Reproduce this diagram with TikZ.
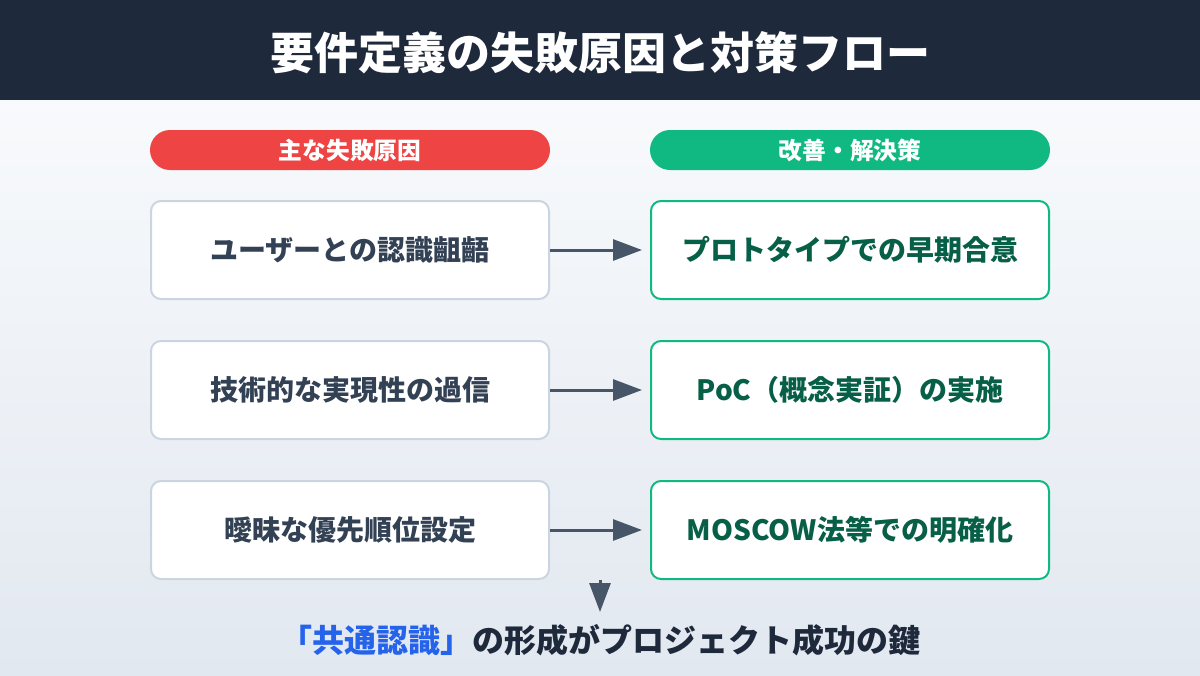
\documentclass[tikz,border=0pt]{standalone}
\usepackage{fontspec}
\setmainfont{Noto Sans CJK JP}
\usetikzlibrary{arrows.meta}
\definecolor{hdr}{HTML}{1E293B}
\definecolor{bgtop}{HTML}{F8FAFC}
\definecolor{bgbot}{HTML}{E2E8F0}
\definecolor{redc}{HTML}{EF4444}
\definecolor{greenc}{HTML}{10B981}
\definecolor{greytx}{HTML}{334155}
\definecolor{greentx}{HTML}{065F46}
\definecolor{lbord}{HTML}{CBD5E1}
\definecolor{arrc}{HTML}{475569}
\definecolor{bluec}{HTML}{2563EB}
\tikzset{
  pill/.style={fill=#1, draw=none, rounded corners=15pt, minimum width=300pt, minimum height=30pt, text=white, font=\bfseries\fontsize{17.8pt}{20pt}\selectfont, inner sep=0pt},
  causebox/.style={fill=white, draw=lbord, line width=1.5pt, rounded corners=7.5pt, minimum width=298.5pt, minimum height=73.5pt, text=greytx, font=\bfseries\fontsize{21pt}{25pt}\selectfont, inner sep=0pt},
  fixbox/.style={fill=white, draw=greenc, line width=1.5pt, rounded corners=7.5pt, minimum width=298.5pt, minimum height=73.5pt, text=greentx, font=\bfseries\fontsize{21pt}{25pt}\selectfont, inner sep=0pt},
  flowarrow/.style={draw=arrc, line width=2.25pt, -{Triangle[length=21.75pt,width=15.75pt]}},
}
\begin{document}
\begin{tikzpicture}[x=0.75pt,y=-0.75pt]
\useasboundingbox (0,0) rectangle (1200,675);
\shade[top color=bgtop, bottom color=bgbot] (0,100) rectangle (1200,675);
\fill[hdr] (0,0) rectangle (1200,100);
\node[text=white, font=\bfseries\fontsize{33pt}{37pt}\selectfont] (title) at (600,53) {要件定義の失敗原因と対策フロー};
\node[pill=redc] (hcause) at (350,150) {主な失敗原因};
\node[pill=greenc] (hfix) at (850,150) {改善・解決策};
\node[causebox] (c1) at (350,250) {ユーザーとの認識齟齬};
\node[causebox] (c2) at (350,390) {技術的な実現性の過信};
\node[causebox] (c3) at (350,530) {曖昧な優先順位設定};
\node[fixbox] (f1) at (850,250) {プロトタイプでの早期合意};
\node[fixbox] (f2) at (850,390) {PoC（概念実証）の実施};
\node[fixbox] (f3) at (850,530) {MOSCOW法等での明確化};
\draw[flowarrow, shorten >=6pt] (c1) -- (f1);
\draw[flowarrow, shorten >=6pt] (c2) -- (f2);
\draw[flowarrow, shorten >=6pt] (c3) -- (f3);
\coordinate (dstart) at (600,580);
\coordinate (dend) at (600,612);
\draw[flowarrow] (dstart) -- (dend);
\node[font=\bfseries\fontsize{24pt}{28pt}\selectfont, text=hdr] (concl) at (600,640) {\textcolor{bluec}{「共通認識」}の形成がプロジェクト成功の鍵};
\end{tikzpicture}
\end{document}
